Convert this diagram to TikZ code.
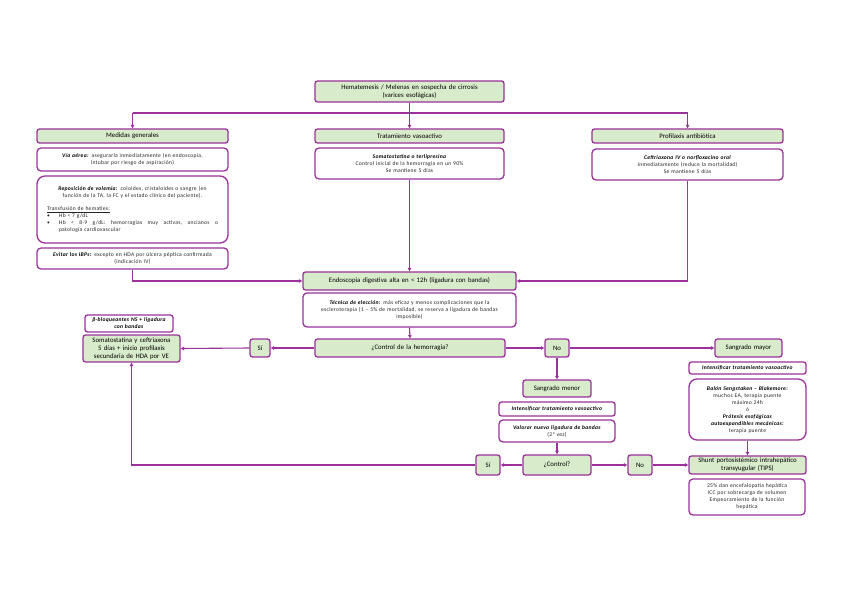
\documentclass[tikz,border=0pt]{standalone}
\usepackage{fontspec}
\setmainfont{Carlito}
\usetikzlibrary{arrows.meta}
\definecolor{pur}{RGB}{155,50,155}
\definecolor{grn}{RGB}{216,235,203}
\hyphenpenalty=10000 \exhyphenpenalty=10000
\tikzset{
 base/.style={draw=pur, line width=1.3pt, align=center, inner xsep=0pt, inner ysep=0pt, text=black!85, font=\fontsize{5.6}{7}\selectfont\addfontfeature{LetterSpace=5}},
 gbox/.style={base, fill=grn, rounded corners=2.5pt, text=black, font=\fontsize{6.8}{8}\selectfont},
 wbox/.style={base, fill=white, rounded corners=4pt},
 rbox/.style={base, fill=white, rounded corners=8pt},
 conn/.style={draw=pur, line width=1.1pt},
 arr/.style={conn, -{Triangle[length=3.4pt,width=3.4pt]}},
}
\newcommand\bx[7]{%
 \pgfmathsetmacro\bxcx{(#3+#5)/2}%
 \pgfmathsetmacro\bxcy{(#4+#6)/2}%
 \pgfmathsetmacro\bxw{#5-#3}%
 \pgfmathsetmacro\bxh{#6-#4}%
 \pgfmathsetmacro\bxtw{#5-#3-4}%
 \node[minimum width=\bxw pt, minimum height=\bxh pt, text width=\bxtw pt, #2] (#1) at (\bxcx,\bxcy) {#7};}
\newcommand\bi[1]{{\color{black}\textbf{\textit{#1}}}}
\begin{document}
\begin{tikzpicture}[x=1pt,y=-1pt]
\useasboundingbox[fill=white] (0,0) rectangle (848,599);
% top
\bx{top}{gbox}{315}{81}{504}{102}{Hematemesis / Melenas en sospecha de cirrosis\\(varices esofágicas)}
% left column
\bx{med}{gbox}{37}{129}{228}{143}{Medidas generales}
\bx{via}{wbox}{37}{148}{228}{171}{\bi{Vía aérea:} asegurarla inmediatamente (en endoscopia,\\intubar por riesgo de aspiración)}
\bx{rep}{rbox, align=left, text width=171pt}{37}{176}{228}{243}{%
{\centering \bi{Reposición de volemia:} coloides, cristaloides o sangre (en\\función de la TA, la FC y el estado clínico del paciente).\par}
\vspace{6pt}
\underline{Transfusión de hematíes:}\par
\noindent\makebox[12pt][l]{\textbullet}Hb < 7 g/dL\par
\noindent\makebox[12pt][l]{\textbullet}\hbox to 159pt{Hb\hfil<\hfil8-9\hfil g/dL:\hfil hemorragias\hfil muy\hfil activas,\hfil ancianos\hfil o}\\
\hspace*{12pt}patología cardiovascular\par}
\bx{evit}{wbox}{37}{248}{228}{269}{\bi{Evitar los IBPs:} excepto en HDA por úlcera péptica confirmada\\(indicación IV)}
% middle column
\bx{trat}{gbox}{315}{129}{504}{143}{Tratamiento vasoactivo}
\bx{soma}{wbox}{315}{148}{504}{179}{\bi{Somatostatina o terlipresina}\\Control inicial de la hemorragia en un 90\%\\Se mantiene 5 días}
% right column
\bx{prof}{gbox}{592}{129}{783}{143}{Profilaxis antibiótica}
\bx{ceft}{wbox}{592}{149}{783}{180}{\bi{Ceftriaxona IV o norfloxacino oral}\\Inmediatamente (reduce la mortalidad)\\Se mantiene 5 días}
% endoscopy
\bx{endo}{gbox}{303}{272}{516}{290}{Endoscopia digestiva alta en < 12h (ligadura con bandas)}
\bx{tec}{wbox}{303}{293}{516}{327}{\bi{Técnica de elección:} más eficaz y menos complicaciones que la\\escleroterapia (1 -- 5\% de mortalidad, se reserva a ligadura de bandas\\imposible)}
\bx{ctrl}{gbox}{315}{339}{505}{357}{¿Control de la hemorragia?}
\bx{si1}{gbox}{250}{339}{270}{357}{Sí}
\bx{beta}{wbox, rounded corners=2.5pt}{85}{315}{173}{332}{\bi{β-bloqueantes NS + ligadura\\con bandas}}
\bx{somcef}{gbox}{83}{335}{180}{362}{Somatostatina y ceftriaxona\\5 días + inicio profilaxis\\secundaria de HDA por VE}
% No branch
\bx{no1}{gbox}{545}{339}{569}{357}{No}
\bx{smay}{gbox}{715}{339}{782}{357}{Sangrado mayor}
\bx{int1}{wbox, rounded corners=2.5pt}{689}{362}{806}{374}{\bi{Intensificar tratamiento vasoactivo}}
\bx{bal}{rbox}{689}{379}{806}{440}{\bi{Balón Sengstaken -- Blakemore:}\\muchos EA, terapia puente\\máximo 24h\\ó\\\bi{Prótesis esofágicas}\\\bi{autoexpandibles mecánicas:}\\terapia puente}
\bx{tips}{gbox}{689}{456}{806}{474}{Shunt portosistémico intrahepático\\transyugular (TIPS)}
\bx{enc}{wbox}{689}{479}{805}{515}{25\% dan encefalopatía hepática\\ICC por sobrecarga de volumen\\Empeoramiento de la función\\hepática}
\bx{smen}{gbox}{523}{380}{591}{397}{Sangrado menor}
\bx{int2}{wbox, rounded corners=2.5pt}{499}{402}{615}{416}{\bi{Intensificar tratamiento vasoactivo}}
\bx{val}{wbox}{499}{420}{615}{442}{\bi{Valorar nueva ligadura de bandas}\\(2ª vez)}
\bx{ctrl2}{gbox}{523}{455}{591}{475}{¿Control?}
\bx{si2}{gbox}{476}{455}{500}{475}{Sí}
\bx{no2}{gbox}{628}{455}{652}{475}{No}
% connectors
\coordinate (hL) at (132.5,113);
\coordinate (hR) at (687.5,113);
\draw[conn] (hL) -- (hR);
\draw[arr] (hL) -- (med.north);
\draw[arr] (hR) -- (prof.north);
\draw[arr] (top.south) -- (trat.north);
\draw[arr] (evit.south) |- (endo.west);
\draw[arr] (soma.south) -- (endo.north);
\draw[arr] (ceft.south) |- (endo.east);
\draw[arr] (tec.south) -- (ctrl.north);
\draw[arr] (ctrl.west) -- (si1.east);
\draw[arr] (si1.west) -- (somcef.east);
\draw[arr] (ctrl.east) -- (no1.west);
\draw[arr] (no1.east) -- (smay.west);
\draw[arr] (no1.south) -- (smen.north);
\draw[arr] (val.south) -- (ctrl2.north);
\draw[arr] (ctrl2.west) -- (si2.east);
\draw[arr] (si2.west) -| (somcef.south);
\draw[arr] (ctrl2.east) -- (no2.west);
\draw[arr] (no2.east) -- (tips.west);
\draw[arr] (bal.south) -- (tips.north);
\end{tikzpicture}
\end{document}
